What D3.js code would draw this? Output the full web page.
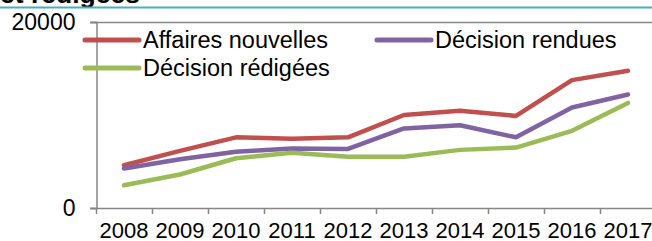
<!DOCTYPE html>
<html>
<head>
<meta charset="utf-8">
<script src="https://cdn.jsdelivr.net/npm/d3@7"></script>
<style>
  html, body { margin: 0; padding: 0; background: #fff; }
  svg { display: block; }
  text { font-family: "Liberation Sans", Arial, sans-serif; fill: #000; }
</style>
</head>
<body>
<svg id="chart" width="652" height="241"></svg>
<script>
const years = ["2008","2009","2010","2011","2012","2013","2014","2015","2016","2017"];
const affairesNouvelles = [4600, 6150, 7600, 7450, 7600, 10000, 10450, 9900, 13750, 14750];
const decisionRendues   = [4250, 5250, 6050, 6400, 6350, 8550, 8900, 7600, 10800, 12200];
const decisionRedigees  = [2450, 3600, 5350, 5950, 5500, 5500, 6250, 6500, 8300, 11300];
const seriesNames = ["Affaires nouvelles", "Décision rendues", "Décision rédigées"];
const yTicks = [0, 20000];
const titleText = "et rédigées";

const series = [
  { name: seriesNames[0], values: affairesNouvelles, color: "#C0504D" },
  { name: seriesNames[1], values: decisionRendues,   color: "#8064A2" },
  { name: seriesNames[2], values: decisionRedigees,  color: "#9BBB59" }
];

const svg = d3.select("#chart");
const legendFont = 23.5;
const yFont = 23;
const xFont = 22;

// title fragment (cut off at top, as in the source)
svg.append("text")
  .attr("x", 0).attr("y", 3)
  .attr("font-size", 26.5).attr("font-weight", "bold")
  .text(titleText);
svg.append("line")
  .attr("x1", 0).attr("x2", 652).attr("y1", 7.5).attr("y2", 7.5)
  .attr("stroke", "#4BACC6").attr("stroke-width", 2);

const x = d3.scaleBand().domain(years).range([96, 656]).paddingInner(0).paddingOuter(0);
const y = d3.scaleLinear().domain([0, 20000]).range([208, 22]);

// top gridline
svg.append("g").selectAll("line").data(yTicks.filter(d => d > 0)).join("line")
  .attr("x1", 90).attr("x2", 652)
  .attr("y1", d => Math.round(y(d)) + 0.5).attr("y2", d => Math.round(y(d)) + 0.5)
  .attr("stroke", "#868686").attr("stroke-width", 1.5);

// y axis
const yAxis = d3.axisLeft(y).tickValues(yTicks).tickSize(6).tickPadding(15).tickFormat(d3.format("d"));
const gy = svg.append("g").attr("transform", "translate(96.5,0)").call(yAxis);
gy.select(".domain").attr("stroke", "#868686").attr("stroke-width", 1.5);
gy.selectAll(".tick line").attr("stroke", "#868686").attr("stroke-width", 1.5);
gy.selectAll(".tick text").attr("font-size", yFont).attr("fill", "#000").attr("font-family", "Liberation Sans, Arial, sans-serif");

// x axis
const xAxis = d3.axisBottom(x).tickSize(0).tickPadding(13.5);
const gx = svg.append("g").attr("transform", "translate(0,208.5)").call(xAxis);
gx.select(".domain").attr("stroke", "#868686").attr("stroke-width", 1.5).attr("d", "M90,0H656");
gx.selectAll(".tick text").attr("font-size", xFont).attr("fill", "#000").attr("font-family", "Liberation Sans, Arial, sans-serif");
// tick marks at category boundaries
svg.append("g").selectAll("line").data(years).join("line")
  .attr("x1", d => x(d) + 0.5).attr("x2", d => x(d) + 0.5)
  .attr("y1", 208).attr("y2", 214)
  .attr("stroke", "#868686").attr("stroke-width", 1.5);

// lines
const line = d3.line()
  .x((d, i) => x(years[i]) + x.bandwidth() / 2)
  .y(d => y(d));
svg.append("g").selectAll("path").data(series).join("path")
  .attr("d", d => line(d.values))
  .attr("fill", "none")
  .attr("stroke", d => d.color)
  .attr("stroke-width", 4.5)
  .attr("stroke-linejoin", "round")
  .attr("stroke-linecap", "round");

// legend
const legendPos = [
  { lx: 85, ly: 40 },
  { lx: 377, ly: 40 },
  { lx: 85, ly: 68 }
];
const lg = svg.append("g").selectAll("g").data(series).join("g")
  .attr("transform", (d, i) => `translate(${legendPos[i].lx},${legendPos[i].ly})`);
lg.append("line")
  .attr("x1", 0).attr("x2", 54).attr("y1", 0).attr("y2", 0)
  .attr("stroke", d => d.color).attr("stroke-width", 5).attr("stroke-linecap", "round");
lg.append("text")
  .attr("x", 58).attr("y", 8)
  .attr("font-size", legendFont)
  .text(d => d.name);
</script>
</body>
</html>
